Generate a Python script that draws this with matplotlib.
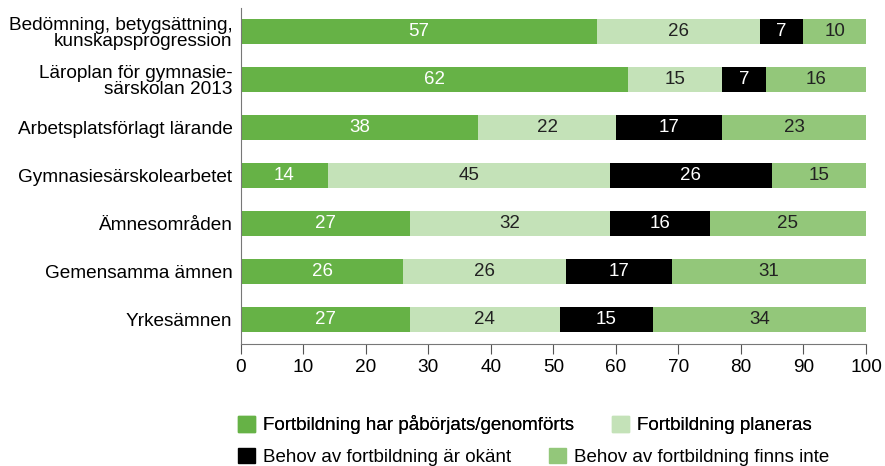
import matplotlib.pyplot as plt
import numpy as np
from matplotlib.patches import Patch

plt.rcParams['font.family'] = ['Liberation Sans', 'DejaVu Sans']

categories = [
    'Bedömning, betygsättning,\nkunskapsprogression',
    'Läroplan för gymnasie-\nsärskolan 2013',
    'Arbetsplatsförlagt lärande',
    'Gymnasiesärskolearbetet',
    'Ämnesområden',
    'Gemensamma ämnen',
    'Yrkesämnen',
]
started = [57, 62, 38, 14, 27, 26, 27]
planned = [26, 15, 22, 45, 32, 26, 24]
unknown = [7, 7, 17, 26, 16, 17, 15]
no_need = [10, 16, 23, 15, 25, 31, 34]

series = [
    ('Fortbildning har påbörjats/genomförts', started, '#66b246', 'white'),
    ('Fortbildning planeras', planned, '#c4e2b8', '#222222'),
    ('Behov av fortbildning är okänt', unknown, '#000000', 'white'),
    ('Behov av fortbildning finns inte', no_need, '#93c77a', '#222222'),
]

fig = plt.figure(figsize=(8.85, 4.66), dpi=100)
ax = fig.add_axes([0.272, 0.262, 0.7065, 0.721])

y = np.arange(len(categories))
left = np.zeros(len(categories))
for name, vals, col, tcol in series:
    vals = np.array(vals, dtype=float)
    ax.barh(y, vals, left=left, height=0.52, color=col, label=name)
    for yi, l, v in zip(y, left, vals):
        ax.text(l + v / 2, yi, f'{int(v)}', ha='center', va='center',
                color=tcol, fontsize=13.5)
    left += vals

ax.set_ylim(len(categories) - 0.5, -0.5)
ax.set_xlim(0, 100)
ax.set_xticks(range(0, 101, 10))
ax.set_yticks(y)
ax.set_yticklabels(categories, fontsize=13.7, linespacing=0.95)
ax.tick_params(axis='y', length=0, pad=6)
ax.tick_params(axis='x', length=7, color='#555555', labelsize=13.7, pad=4)
for s in ('top', 'right'):
    ax.spines[s].set_visible(False)
for s in ('left', 'bottom'):
    ax.spines[s].set_color('#777777')

handles = [Patch(color=c, label=n) for n, _, c, _ in series]
leg_kw = dict(ncol=2, frameon=False, fontsize=13.5, handlelength=0.9, handleheight=0.9,
              handletextpad=0.45, columnspacing=2.0, borderpad=0, borderaxespad=0)
leg1 = fig.legend(handles=handles[:2], loc='center left', bbox_to_anchor=(0.269, 0.088), **leg_kw)
leg2 = fig.legend(handles=handles[2:], loc='center left', bbox_to_anchor=(0.269, 0.02), **leg_kw)
fig.add_artist(leg1)

fig.savefig('out.png', dpi=100)
